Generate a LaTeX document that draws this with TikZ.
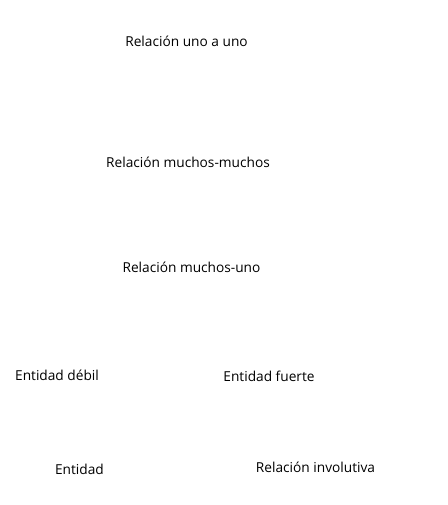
\documentclass[tikz,border=0pt]{standalone}
\usepackage{fontspec}
\setmainfont{Open Sans}
\begin{document}
\begin{tikzpicture}[x=1pt,y=-1pt,
  lbl/.style={inner sep=0pt, font=\fontsize{13.7}{16}\selectfont, text=black}]
\useasboundingbox (0,0) rectangle (447,505);
\node[lbl] (r11) at (186.5,41) {Relación uno a uno};
\node[lbl] (rmm) at (188,162) {Relación muchos-muchos};
\node[lbl] (rmu) at (191.5,267) {Relación muchos-uno};
\node[lbl] (ed) at (57,375) {Entidad débil};
\node[lbl] (ef) at (269,376) {Entidad fuerte};
\node[lbl] (e) at (79.5,469) {Entidad};
\node[lbl] (ri) at (315.5,467) {Relación involutiva};
\end{tikzpicture}
\end{document}
